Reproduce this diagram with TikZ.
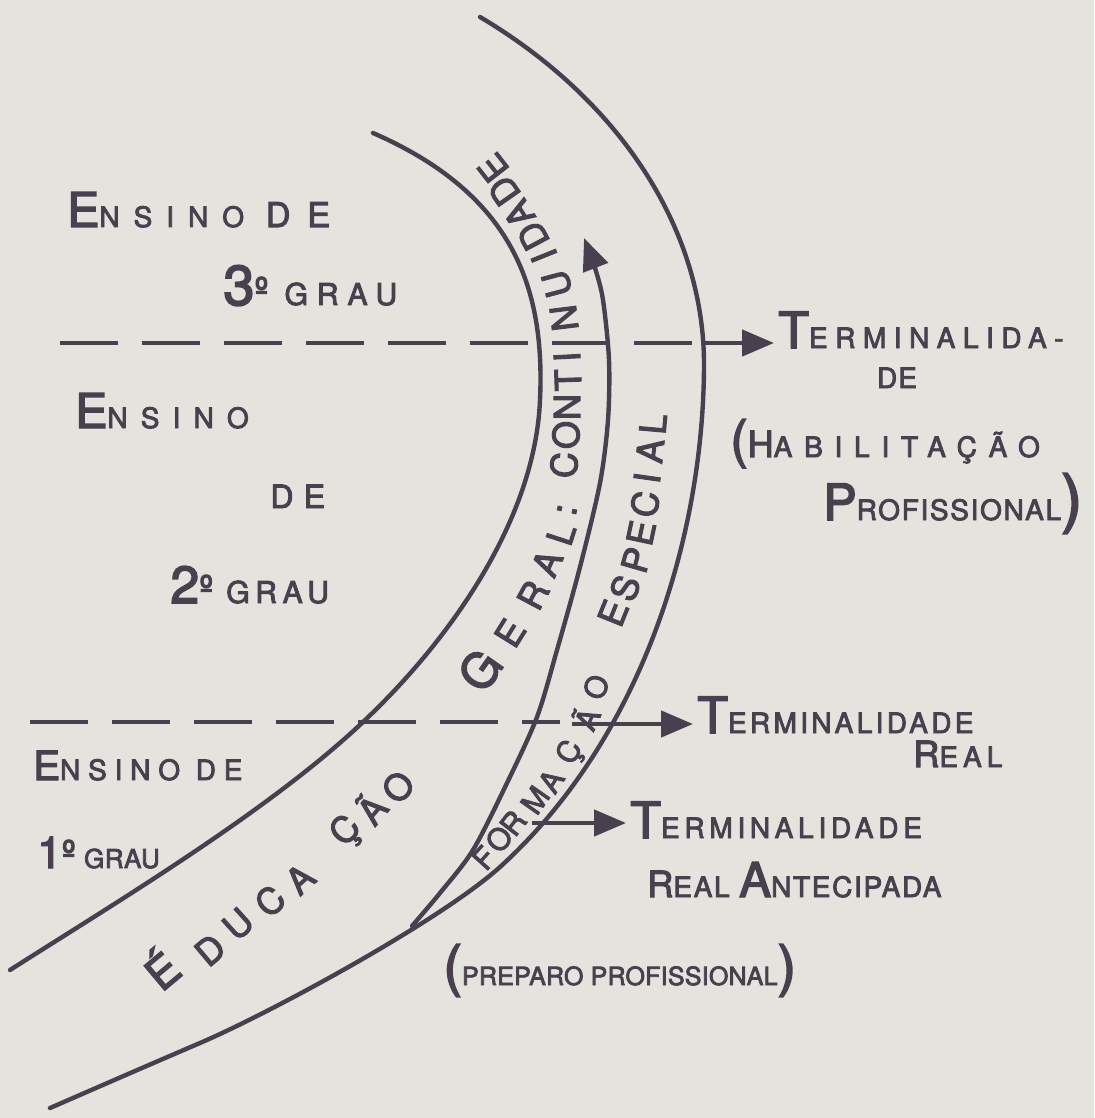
\documentclass[tikz,border=0pt]{standalone}
\usepackage{fontspec}
\newfontfamily\hand[FakeBold=3]{TeX Gyre Heros}
\usetikzlibrary{arrows.meta}
\definecolor{ink}{RGB}{72,64,78}
\definecolor{paper}{RGB}{228,227,222}
\newcommand\bigc[2][21]{{\fontsize{#1pt}{#1pt}\selectfont #2}}
\newcommand\lsp[1]{\addfontfeature{LetterSpace=#1}}
\newcommand\ordo{{\fontsize{19pt}{19pt}\selectfont º}}

\begin{document}
\begin{tikzpicture}[
  x=0.5pt, y=-0.5pt,
  >={Triangle[length=16pt,width=13pt]},
  lbl/.style={ink, inner sep=0pt, anchor=base west, font=\hand\fontsize{14pt}{16pt}\selectfont},
  band/.style={ink, inner sep=0pt, font=\hand\fontsize{#1pt}{#1pt}\selectfont},
  curve/.style={draw=ink, line width=2.2pt, line cap=round},
  level/.style={draw=ink, line width=2.3pt, dash pattern=on 29pt off 12pt},
  flow/.style={->, draw=ink, line width=2.3pt, shorten >=2pt},
]
\fill[paper] (0,0) rectangle (1094,1118);
\useasboundingbox (0,0) rectangle (1094,1118);

% ---- levels (left column) ----
\node[lbl] (ens3) at (67,227) {\lsp{50}\bigc[24]{E}NSINO \bigc[17]{DE}};
\node[lbl] (grau3) at (223,305) {\lsp{30}\bigc[28]{3}\ordo\ \bigc[15]{GRAU}};
\node[lbl] (ens2) at (75,428) {\lsp{47}\bigc[24]{E}NSINO};
\node[lbl] (de2) at (270,508) {\lsp{32}\bigc[16]{DE}};
\node[lbl] (grau2) at (170,603) {\lsp{19}\bigc[26]{2}\ordo\ \bigc[15]{GRAU}};
\node[lbl] (ens1) at (33,780) {\lsp{28}\bigc[20]{E}NSINO DE};
\node[lbl] (grau1) at (37,868) {\lsp{2}\bigc[22]{1}\ordo\ \bigc[13]{GRAU}};

% ---- outcomes (right column) ----
\node[lbl] (termHab) at (778,348) {\lsp{27}\bigc[25]{T}ERMINALIDA-};
\node[lbl, anchor=base] (termHabDe) at (897,388) {\lsp{4}DE};
\node[lbl] (hab) at (730,457) {\lsp{42}\bigc[26]{(}\bigc[18]{H}ABILITAÇÃO};
\node[lbl] (prof) at (823,520) {\lsp{6}\bigc[25]{P}ROFISSIONAL\bigc[32]{)}};
\node[lbl] (termReal) at (697,733) {\lsp{12}\bigc[25]{T}ERMINALIDADE};
\node[lbl] (real) at (913,767) {\lsp{18}\bigc[18]{R}EAL};
\node[lbl] (termAnt) at (630,838) {\lsp{17}\bigc[25]{T}ERMINALIDADE};
\node[lbl] (ant) at (647,897) {\lsp{6}\bigc[18]{R}EAL \bigc[24]{A}NTECIPADA};
\node[lbl] (prep) at (443,985) {\fontsize{12.5pt}{14pt}\selectfont\lsp{1}\bigc[28]{(}PREPARO PROFISSIONAL\bigc[28]{)}};

% ---- band curves ----
\draw[curve] (480,17) .. controls (620,100) and (705,230) .. (704,367)
  .. controls (703,540) and (640,740) .. (500,867)
  .. controls (440,921) and (270,1013) .. (200,1043)
  .. controls (130,1073) and (80,1095) .. (50,1108);
\draw[curve] (373,133) .. controls (515,195) and (545,290) .. (540,400)
  .. controls (535,520) and (450,640) .. (363,722)
  .. controls (270,810) and (120,900) .. (10,970);
\draw[curve, ->] plot[smooth] coordinates {(412,926) (440,893) (473,850) (507,783) (537,717)
  (557,650) (580,567) (600,483) (608,420) (609,360) (603,300) (595,268) (584,238)};

% ---- lettering inside the bands ----
\node[band=24, rotate=55] (geralG) at (480,670) {G};
\foreach \ch/\px/\py/\ang [count=\k] in {E/510/633/58, R/533/595/62, A/547/563/66, L/561/534/72, :/567/510/78}
  \node[band=18, rotate=\ang] (geral\k) at (\px,\py) {\ch};
\foreach \ch/\px/\py/\ang [count=\k] in {C/564/465/86, O/566/435/88, N/567/407/90, T/568/380/92,
    I/567/357/93, N/564/318/97, U/557/284/105, I/544/256/112, D/533/236/118, A/519/214/122,
    D/504/191/125, E/493/168/128}
  \node[band=18, rotate=\ang] (cont\k) at (\px,\py) {\ch};
\node[band=22, rotate=40] (educE) at (160,968) {É};
\foreach \ch/\px/\py/\ang [count=\k] in {D/210/950/40, U/238/924/42, C/270/901/42, A/300/879/42}
  \node[band=18, rotate=\ang] (educ\k) at (\px,\py) {\ch};
\foreach \ch/\px/\py/\ang [count=\k] in {Ç/347/832/48, Ã/370/808/50, O/398/787/50}
  \node[band=18, rotate=\ang] (cao\k) at (\px,\py) {\ch};
\foreach \ch/\px/\py/\ang [count=\k] in {F/484/858/48, O/499/839/50, R/513/823/52, M/535/800/55,
    A/551/781/58, Ç/571/753/62, Ã/585/718/66, O/596/687/68}
  \node[band=15, rotate=\ang] (form\k) at (\px,\py) {\ch};
\foreach \ch/\px/\py/\ang [count=\k] in {E/613/613/68, S/625/588/70, P/636/560/74, E/641/533/78,
    C/645/504/80, I/647/478/82, A/650/451/84, L/653/424/85}
  \node[band=18, rotate=\ang] (esp\k) at (\px,\py) {\ch};

% ---- level lines and arrows ----
\coordinate (lvl3L) at (60,343);
\coordinate (lvl3R) at (702,343);
\draw[level] (lvl3L) -- (lvl3R);
\draw[flow] (lvl3R) -- (lvl3R -| termHab.west);
\coordinate (lvl2L) at (30,722);
\coordinate (lvl2R) at (560,722);
\coordinate (lvl2A) at (572,724);
\draw[level] (lvl2L) -- (lvl2R);
\draw[flow] (lvl2A) -- (lvl2A -| termReal.west);
\coordinate (formOut) at (532,823);
\draw[flow] (formOut) -- (formOut -| termAnt.west);
\end{tikzpicture}
\end{document}
